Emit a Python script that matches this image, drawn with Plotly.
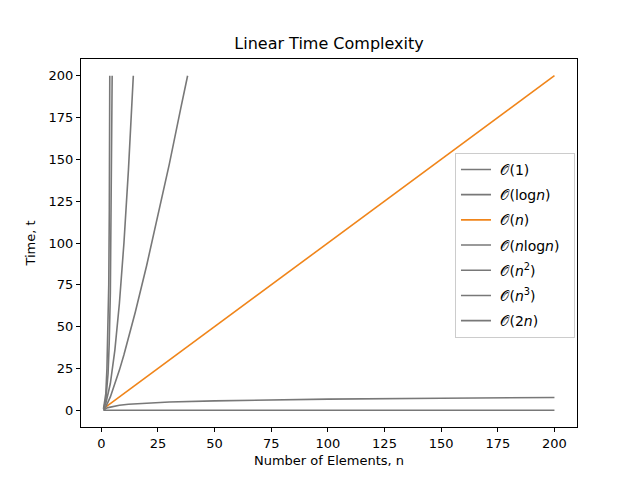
import plotly.graph_objects as go

GREY = 'rgb(120, 120, 120)'
ORANGE = 'rgb(240, 133, 26)'

# values
n_const = [1, 200]
t_const = [0, 0]

n_log = [1, 1.5, 2, 3, 5, 8, 12, 20, 30, 50, 75, 100, 150, 200]
t_log = [0, 0.58, 1, 1.58, 2.32, 3, 3.58, 4.32, 4.91, 5.64, 6.23, 6.64, 7.23, 7.64]

n_lin = [1, 200]
t_lin = [1, 200]

n_nlog = [1, 2, 4, 6, 8, 10, 15, 20, 25, 30, 35, 38.1]
t_nlog = [0, 2, 8, 15.5, 24, 33.2, 58.6, 86.4, 116, 147, 180, 200]

n_sq = [1, 2, 4, 6, 8, 10, 12, 14.14]
t_sq = [1, 4, 16, 36, 64, 100, 144, 200]

n_cube = [1, 2, 2.5, 3, 3.3, 3.55, 3.75]
t_cube = [1, 10, 25, 50, 75, 120, 200]

n_two = [1, 2, 3, 3.5, 4, 4.4, 4.8]
t_two = [1, 6, 22, 40, 70, 120, 200]

O = '\U0001D4AA'
series = [
    (O + '(1)', n_const, t_const, GREY),
    (O + '(log<i>n</i>)', n_log, t_log, GREY),
    (O + '(<i>n</i>)', n_lin, t_lin, ORANGE),
    (O + '(<i>n</i>log<i>n</i>)', n_nlog, t_nlog, GREY),
    (O + '(<i>n</i><sup>2</sup>)', n_sq, t_sq, GREY),
    (O + '(<i>n</i><sup>3</sup>)', n_cube, t_cube, GREY),
    (O + '(2<i>n</i>)', n_two, t_two, GREY),
]

fig = go.Figure()
for i, (name, xs, ys, colour) in enumerate(series):
    fig.add_trace(go.Scatter(x=xs, y=ys, mode='lines',
                             name='\u00a0' + name + '\u00a0\u00a0',
                             legendgroup=str(i),
                             line=dict(color=colour, width=1.6)))

axis_style = dict(showgrid=False, zeroline=False, showline=True, mirror=True,
                  linecolor='black', linewidth=1, ticks='outside', ticklen=4,
                  tickcolor='black', tickfont=dict(size=13, color='black'))

# the page body adds 8px, so margins are shifted to compensate
fig.update_layout(
    width=640, height=480,
    paper_bgcolor='white', plot_bgcolor='white',
    font=dict(family='DejaVu Sans', size=13, color='black'),
    margin=dict(l=73, r=71, t=51, b=61),
    title=dict(text='Linear Time Complexity', x=0.5, xanchor='center',
               xref='paper', y=0.927, yanchor='middle',
               font=dict(size=16, color='black')),
    legend=dict(x=0.754, y=0.745, xanchor='left', yanchor='top',
                bordercolor='rgb(204,204,204)', borderwidth=1,
                bgcolor='rgba(255,255,255,0.8)', font=dict(size=14),
                tracegroupgap=4),
)
fig.update_xaxes(axis_style, range=[-8.95, 209.95], tickvals=[0, 25, 50, 75, 100, 125, 150, 175, 200],
                 title=dict(text='Number of Elements, n', font=dict(size=13), standoff=6))
fig.update_yaxes(axis_style, range=[-10, 210], tickvals=[0, 25, 50, 75, 100, 125, 150, 175, 200],
                 title=dict(text='Time, t', font=dict(size=13), standoff=10))

fig.write_html('out.html')
